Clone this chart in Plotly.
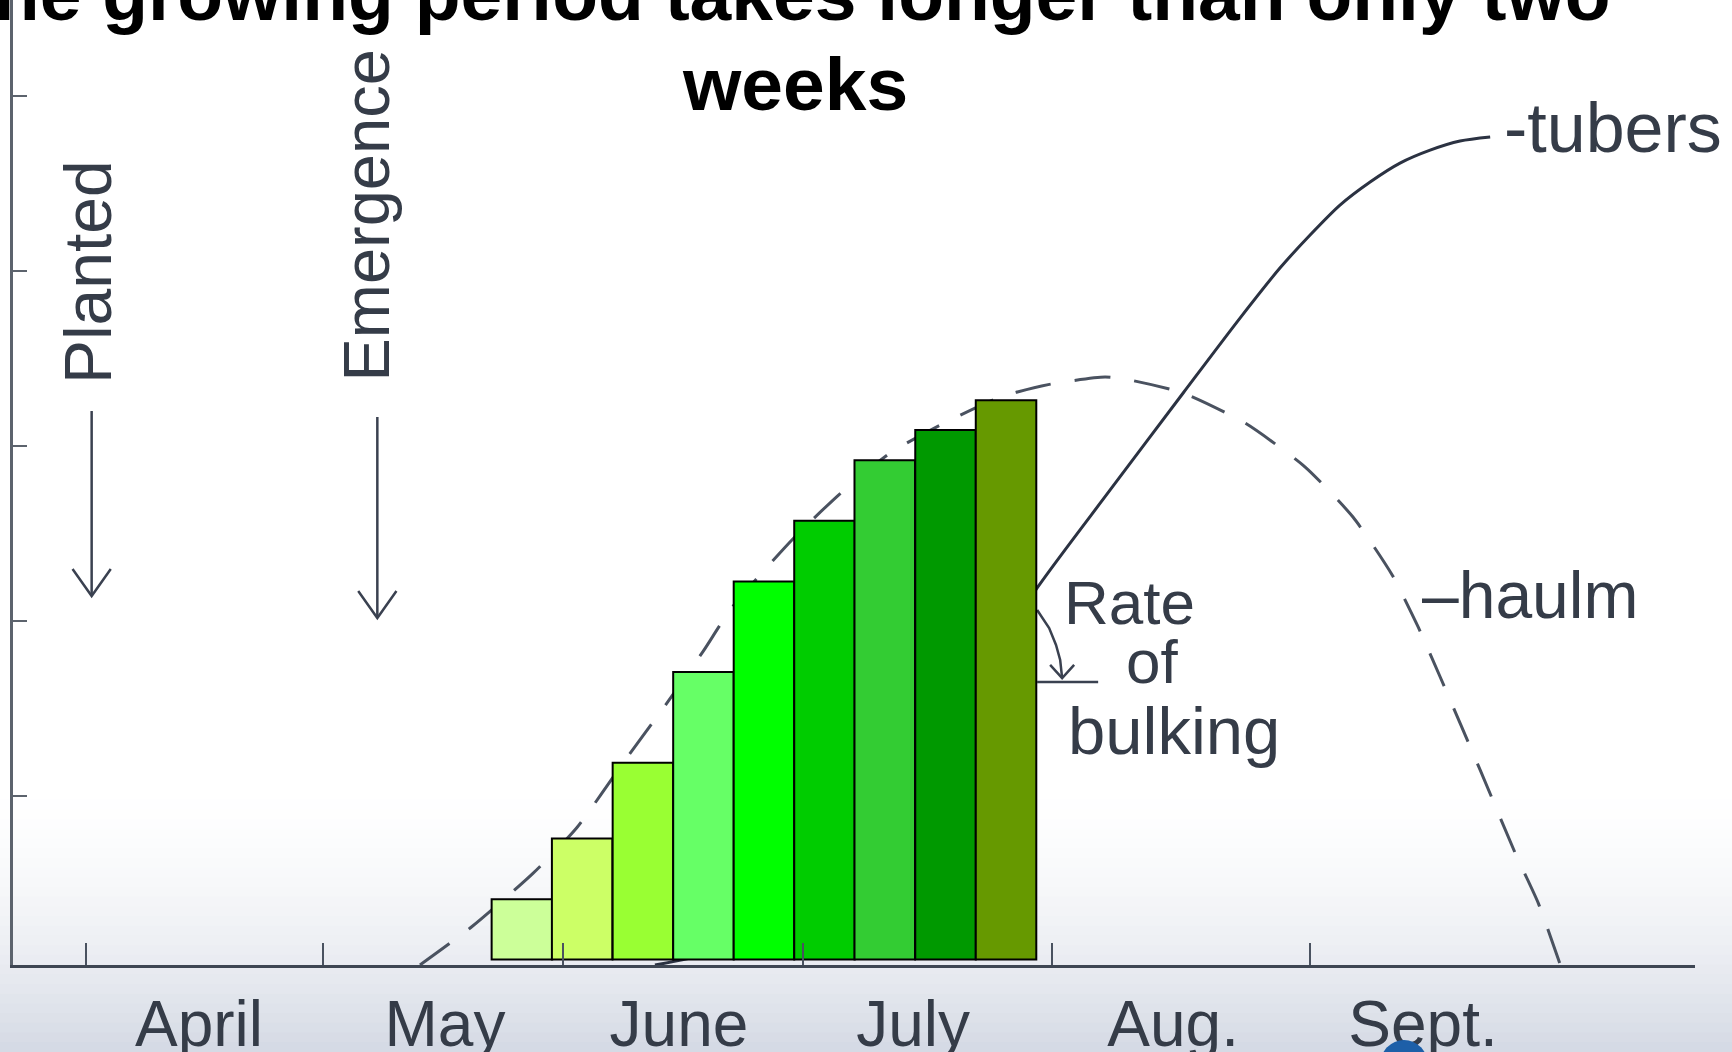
import plotly.graph_objects as go

# ---------------- data (x = months after 1 April, y = relative dry matter) ----------------
month_labels = ["April", "May", "June", "July", "Aug.", "Sept."]
month_label_pos = [0.461, 1.465, 2.420, 3.376, 4.437, 5.457]
month_boundaries = [0.0, 0.967, 1.947, 2.927, 3.943, 4.996]
y_ticks = [1, 2, 3, 4, 5]

bar_x = [1.779, 2.025, 2.273, 2.520, 2.767, 3.014, 3.260, 3.508, 3.755]
bar_top = [0.410, 0.757, 1.190, 1.709, 2.225, 2.573, 2.918, 3.091, 3.261]
bar_base = 0.066
bar_width = 0.247
bar_colors = ["#ccff99", "#ccff66", "#99ff33", "#66ff66", "#00ff00",
              "#00cc00", "#33cc33", "#009900", "#669900"]

haulm_x = [1.363, 1.573, 1.823, 2.003, 2.198, 2.370, 2.518, 2.636, 2.886, 3.081,
           3.284, 3.495, 3.729, 3.927, 4.159, 4.261, 4.478, 4.731, 4.976, 5.171,
           5.331, 5.437, 5.527, 5.690, 5.833, 5.927, 6.016]
haulm_y = [0.034, 0.251, 0.556, 0.818, 1.201, 1.529, 1.825, 2.076, 2.470, 2.732,
           2.962, 3.126, 3.279, 3.351, 3.394, 3.377, 3.303, 3.131, 2.880, 2.594,
           2.263, 1.966, 1.680, 1.149, 0.674, 0.389, 0.040]

tubers_x = [2.322, 2.588, 2.914, 3.322, 3.608, 3.882, 4.180, 4.478, 4.710, 4.873,
            4.996, 5.118, 5.241, 5.363, 5.486, 5.608, 5.731]
tubers_y = [0.034, 0.120, 0.377, 1.034, 1.606, 2.189, 2.749, 3.303, 3.731, 4.017,
            4.206, 4.377, 4.509, 4.617, 4.691, 4.743, 4.766]

# "Rate of bulking" angle marker
rate_arc_x = [3.882, 3.931, 3.959, 3.976, 3.984]
rate_arc_y = [2.063, 1.960, 1.863, 1.777, 1.674]
rate_head_x = [3.935, 3.984, 4.033]
rate_head_y = [1.749, 1.674, 1.749]
rate_base_x = [3.882, 4.131]
rate_base_y = [1.651, 1.651]

# event arrows (Planted, Emergence)
planted_arrow_x = [0.023, 0.023, None, -0.055, 0.023, 0.101]
planted_arrow_y = [3.200, 2.143, None, 2.297, 2.143, 2.297]
emerg_arrow_x = [1.189, 1.189, None, 1.111, 1.189, 1.267]
emerg_arrow_y = [3.166, 2.017, None, 2.171, 2.017, 2.171]

x_range = [-0.298, 6.567]
y_range = [0.034, 5.549]

INK = "#353c48"
FONT = "Liberation Sans, Arial, sans-serif"

fig = go.Figure()

# lines on the base subplot (drawn underneath the bars)
fig.add_trace(go.Scatter(x=haulm_x, y=haulm_y, mode="lines",
                         line=dict(color="#4a5260", width=3, dash="36px,24px", shape="spline", smoothing=0.6),
                         hoverinfo="skip", showlegend=False))
fig.add_trace(go.Scatter(x=tubers_x, y=tubers_y, mode="lines",
                         line=dict(color="#2b3242", width=3, shape="spline", smoothing=0.8),
                         hoverinfo="skip", showlegend=False))
for ax_, ay_ in [(rate_arc_x, rate_arc_y), (rate_head_x, rate_head_y), (rate_base_x, rate_base_y),
                 (planted_arrow_x, planted_arrow_y), (emerg_arrow_x, emerg_arrow_y)]:
    fig.add_trace(go.Scatter(x=ax_, y=ay_, mode="lines",
                             line=dict(color="#3a4150", width=2.5, shape="linear"),
                             hoverinfo="skip", showlegend=False))

# bars on an overlaid subplot so they cover the curves
fig.add_trace(go.Bar(x=bar_x, y=[t - bar_base for t in bar_top], base=bar_base,
                     width=bar_width,
                     marker=dict(color=bar_colors, line=dict(color="black", width=2)),
                     xaxis="x2", yaxis="y2", showlegend=False, hoverinfo="skip"))

annotations = [
    dict(text="The growing period takes longer than only two", xref="paper", yref="paper",
         x=0.456, y=1.006, xanchor="center", yanchor="middle", showarrow=False,
         font=dict(family=FONT, size=75, color="black", weight="bold")),
    dict(text="weeks", xref="paper", yref="paper",
         x=0.465, y=0.913, xanchor="center", yanchor="middle", showarrow=False,
         font=dict(family=FONT, size=75, color="black", weight="bold")),
    dict(text="Planted", x=0.008, y=3.994, xref="x", yref="y", textangle=-90,
         showarrow=False, font=dict(family=FONT, size=66, color=INK)),
    dict(text="Emergence", x=1.147, y=4.317, xref="x", yref="y", textangle=-90,
         showarrow=False, font=dict(family=FONT, size=65, color=INK)),
    dict(text="-tubers", x=5.780, y=4.817, xref="x", yref="y", xanchor="left", yanchor="middle",
         showarrow=False, font=dict(family=FONT, size=70, color=INK)),
    dict(text="–haulm", x=5.445, y=2.149, xref="x", yref="y", xanchor="left", yanchor="middle",
         showarrow=False, font=dict(family=FONT, size=66, color=INK)),
    dict(text="Rate", x=3.985, y=2.103, xref="x", yref="y", xanchor="left", yanchor="middle",
         showarrow=False, font=dict(family=FONT, size=62, color=INK)),
    dict(text="of", x=4.235, y=1.771, xref="x", yref="y", xanchor="left", yanchor="middle",
         showarrow=False, font=dict(family=FONT, size=62, color=INK)),
    dict(text="bulking", x=4.000, y=1.377, xref="x", yref="y", xanchor="left", yanchor="middle",
         showarrow=False, font=dict(family=FONT, size=67, color=INK)),
]

# soft grey-blue gradient at the bottom of the slide
PLOT_H = 965.0
PLOT_L, PLOT_W = 13.0, 1682.0
shapes = []
N = 28
top_px, bot_px = 780.0, 1052.0
for i in range(N):
    p0 = top_px + (bot_px - top_px) * i / N
    p1 = top_px + (bot_px - top_px) * (i + 1) / N + 1
    t = ((i + 0.5) / N) ** 1.7
    r = round(255 - t * (255 - 212))
    g = round(255 - t * (255 - 217))
    b = round(255 - t * (255 - 228))
    shapes.append(dict(type="rect", xref="paper", yref="paper", x0=-0.02, x1=1.04,
                       y0=1 - p1 / PLOT_H, y1=1 - p0 / PLOT_H,
                       fillcolor=f"rgb({r},{g},{b})", line=dict(width=0), layer="below"))
# partial blue logo at the bottom edge
shapes.append(dict(type="circle", xref="paper", yref="paper",
                   x0=(1380 - PLOT_L) / PLOT_W, x1=(1428 - PLOT_L) / PLOT_W,
                   y0=1 - 1090 / PLOT_H, y1=1 - 1040 / PLOT_H,
                   fillcolor="#1d5fa8", line=dict(width=0), layer="above"))

fig.update_layout(
    width=1732, height=1052,
    margin=dict(l=13, r=37, t=0, b=87, autoexpand=False),
    paper_bgcolor="white", plot_bgcolor="rgba(0,0,0,0)",
    showlegend=False,
    annotations=annotations,
    shapes=shapes,
    xaxis=dict(range=x_range, showline=True, linecolor="#3e4653", linewidth=3,
               ticks="", tickmode="array", tickvals=month_label_pos, ticktext=month_labels,
               tickfont=dict(family=FONT, size=64, color=INK), ticklabelstandoff=1,
               showgrid=False, zeroline=False, fixedrange=True,
               minor=dict(tickmode="array", tickvals=month_boundaries, ticks="inside",
                          ticklen=22, tickwidth=2.5, tickcolor="#4a5260", showgrid=False)),
    yaxis=dict(range=y_range, showline=True, linecolor="#5c636d", linewidth=3,
               ticks="inside", ticklen=14, tickwidth=2, tickcolor="#5c636d",
               tickmode="array", tickvals=y_ticks, showticklabels=False,
               showgrid=False, zeroline=False, fixedrange=True),
    xaxis2=dict(range=x_range, overlaying="x", anchor="y2", visible=False, fixedrange=True),
    yaxis2=dict(range=y_range, overlaying="y", anchor="x2", visible=False, fixedrange=True),
)

fig.write_html("out.html",
               config={"displayModeBar": False, "staticPlot": True},
               post_script="document.body.style.margin='0';document.body.style.overflow='hidden';")
